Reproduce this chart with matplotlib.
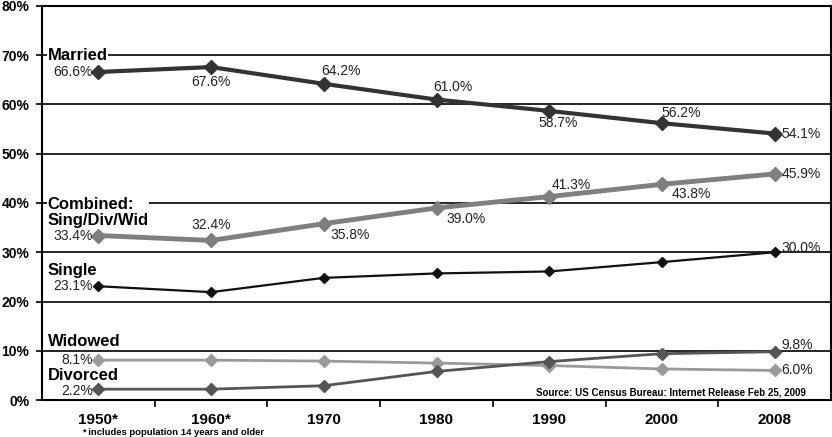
import matplotlib
matplotlib.use("Agg")
import matplotlib.pyplot as plt

plt.rcParams['font.family'] = ['Liberation Sans', 'DejaVu Sans']

years = ["1950*", "1960*", "1970", "1980", "1990", "2000", "2008"]
married = [66.6, 67.6, 64.2, 61.0, 58.7, 56.2, 54.1]
combined = [33.4, 32.4, 35.8, 39.0, 41.3, 43.8, 45.9]
single = [23.1, 21.9, 24.8, 25.7, 26.1, 28.0, 30.0]
widowed = [8.1, 8.1, 7.9, 7.5, 7.0, 6.3, 6.0]
divorced = [2.2, 2.2, 2.9, 5.8, 7.8, 9.4, 9.8]
yticks = [0, 10, 20, 30, 40, 50, 60, 70, 80]

fig = plt.figure(figsize=(8.32, 4.37), dpi=100)
ax = fig.add_axes([42/832, 37/437, 789/832, 394/437])
x = list(range(len(years)))

# gridlines
for v in yticks[1:]:
    ax.axhline(v, color='black', lw=1.2, zorder=1)

styles = [
    (widowed, '#9a9a9a', 2.0, 6.5),
    (divorced, '#555555', 2.0, 6.5),
    (single, '#111111', 1.6, 5.5),
    (combined, '#7f7f7f', 3.5, 7.5),
    (married, '#333333', 3.0, 7.5),
]
for vals, c, lw, ms in styles:
    ax.plot(x, vals, color=c, lw=lw, marker='D', ms=ms, mec=c, mfc=c, zorder=3)

# data labels: (series, index, dx, dy (points), ha, va)
def lab(vals, i, dx, dy, ha, va):
    ax.annotate(f"{vals[i]:.1f}%", (x[i], vals[i]), xytext=(dx, dy),
                textcoords='offset points', ha=ha, va=va, fontsize=10,
                color='#222222', zorder=4)

lab(married, 0, -4, 0, 'right', 'center')
lab(married, 1, 0, -6, 'center', 'top')
lab(married, 2, -2, 4, 'left', 'bottom')
lab(married, 3, -2, 4, 'left', 'bottom')
lab(married, 4, -8, -4, 'left', 'top')
lab(married, 5, 0, 2, 'left', 'bottom')
lab(married, 6, 5, 0, 'left', 'center')

lab(combined, 0, -4, 0, 'right', 'center')
lab(combined, 1, 0, 6, 'center', 'bottom')
lab(combined, 2, 5, -3, 'left', 'top')
lab(combined, 3, 7, -3, 'left', 'top')
lab(combined, 4, 2, 3, 'left', 'bottom')
lab(combined, 5, 7, -2, 'left', 'top')
lab(combined, 6, 5, 0, 'left', 'center')

lab(single, 0, -4, 0, 'right', 'center')
lab(single, 6, 5, 3, 'left', 'center')

lab(widowed, 0, -4, 0, 'right', 'center')
lab(widowed, 6, 5, 0, 'left', 'center')

lab(divorced, 0, -4, -1, 'right', 'center')
lab(divorced, 6, 5, 5, 'left', 'center')

# series names
name_kw = dict(fontsize=12, fontweight='bold', color='black', zorder=2,
               bbox=dict(facecolor='white', edgecolor='none', pad=0.2))
ax.text(-0.45, 70, "Married", va='center', ha='left', **name_kw)
ax.text(-0.45, 41.3, "Combined:\nSing/Div/Wid", va='top', ha='left',
        linespacing=1.1, **name_kw)
ax.text(-0.45, 26.3, "Single", va='center', ha='left', **name_kw)
ax.text(-0.45, 11.8, "Widowed", va='center', ha='left', **name_kw)
ax.text(-0.45, 5.0, "Divorced", va='center', ha='left', **name_kw)

ax.text(6.28, 1.6, "Source: US Census Bureau: Internet Release Feb 25, 2009",
        ha='right', va='center', fontsize=7, fontweight='bold', zorder=4)
fig.text(82/832, 0.011, "* includes population 14 years and older",
         ha='left', va='center', fontsize=6.8, fontweight='bold')

ax.set_xlim(-0.5, 6.5)
ax.set_ylim(0, 80)
ax.set_yticks(yticks)
ax.set_yticklabels([f"{v}%" for v in yticks], fontsize=10, fontweight='bold')
ax.set_xticks(x)
ax.set_xticklabels(years, fontsize=11, fontweight='bold')
ax.set_xticks([i + 0.5 for i in range(6)], minor=True)
ax.tick_params(axis='x', which='major', length=0, pad=9)
ax.tick_params(axis='x', which='minor', length=5, width=1.2, direction='out')
ax.tick_params(axis='y', length=4, width=1.2, pad=5)
for s in ax.spines.values():
    s.set_linewidth(1.5)
    s.set_color('black')

fig.savefig("out.png", dpi=100)
